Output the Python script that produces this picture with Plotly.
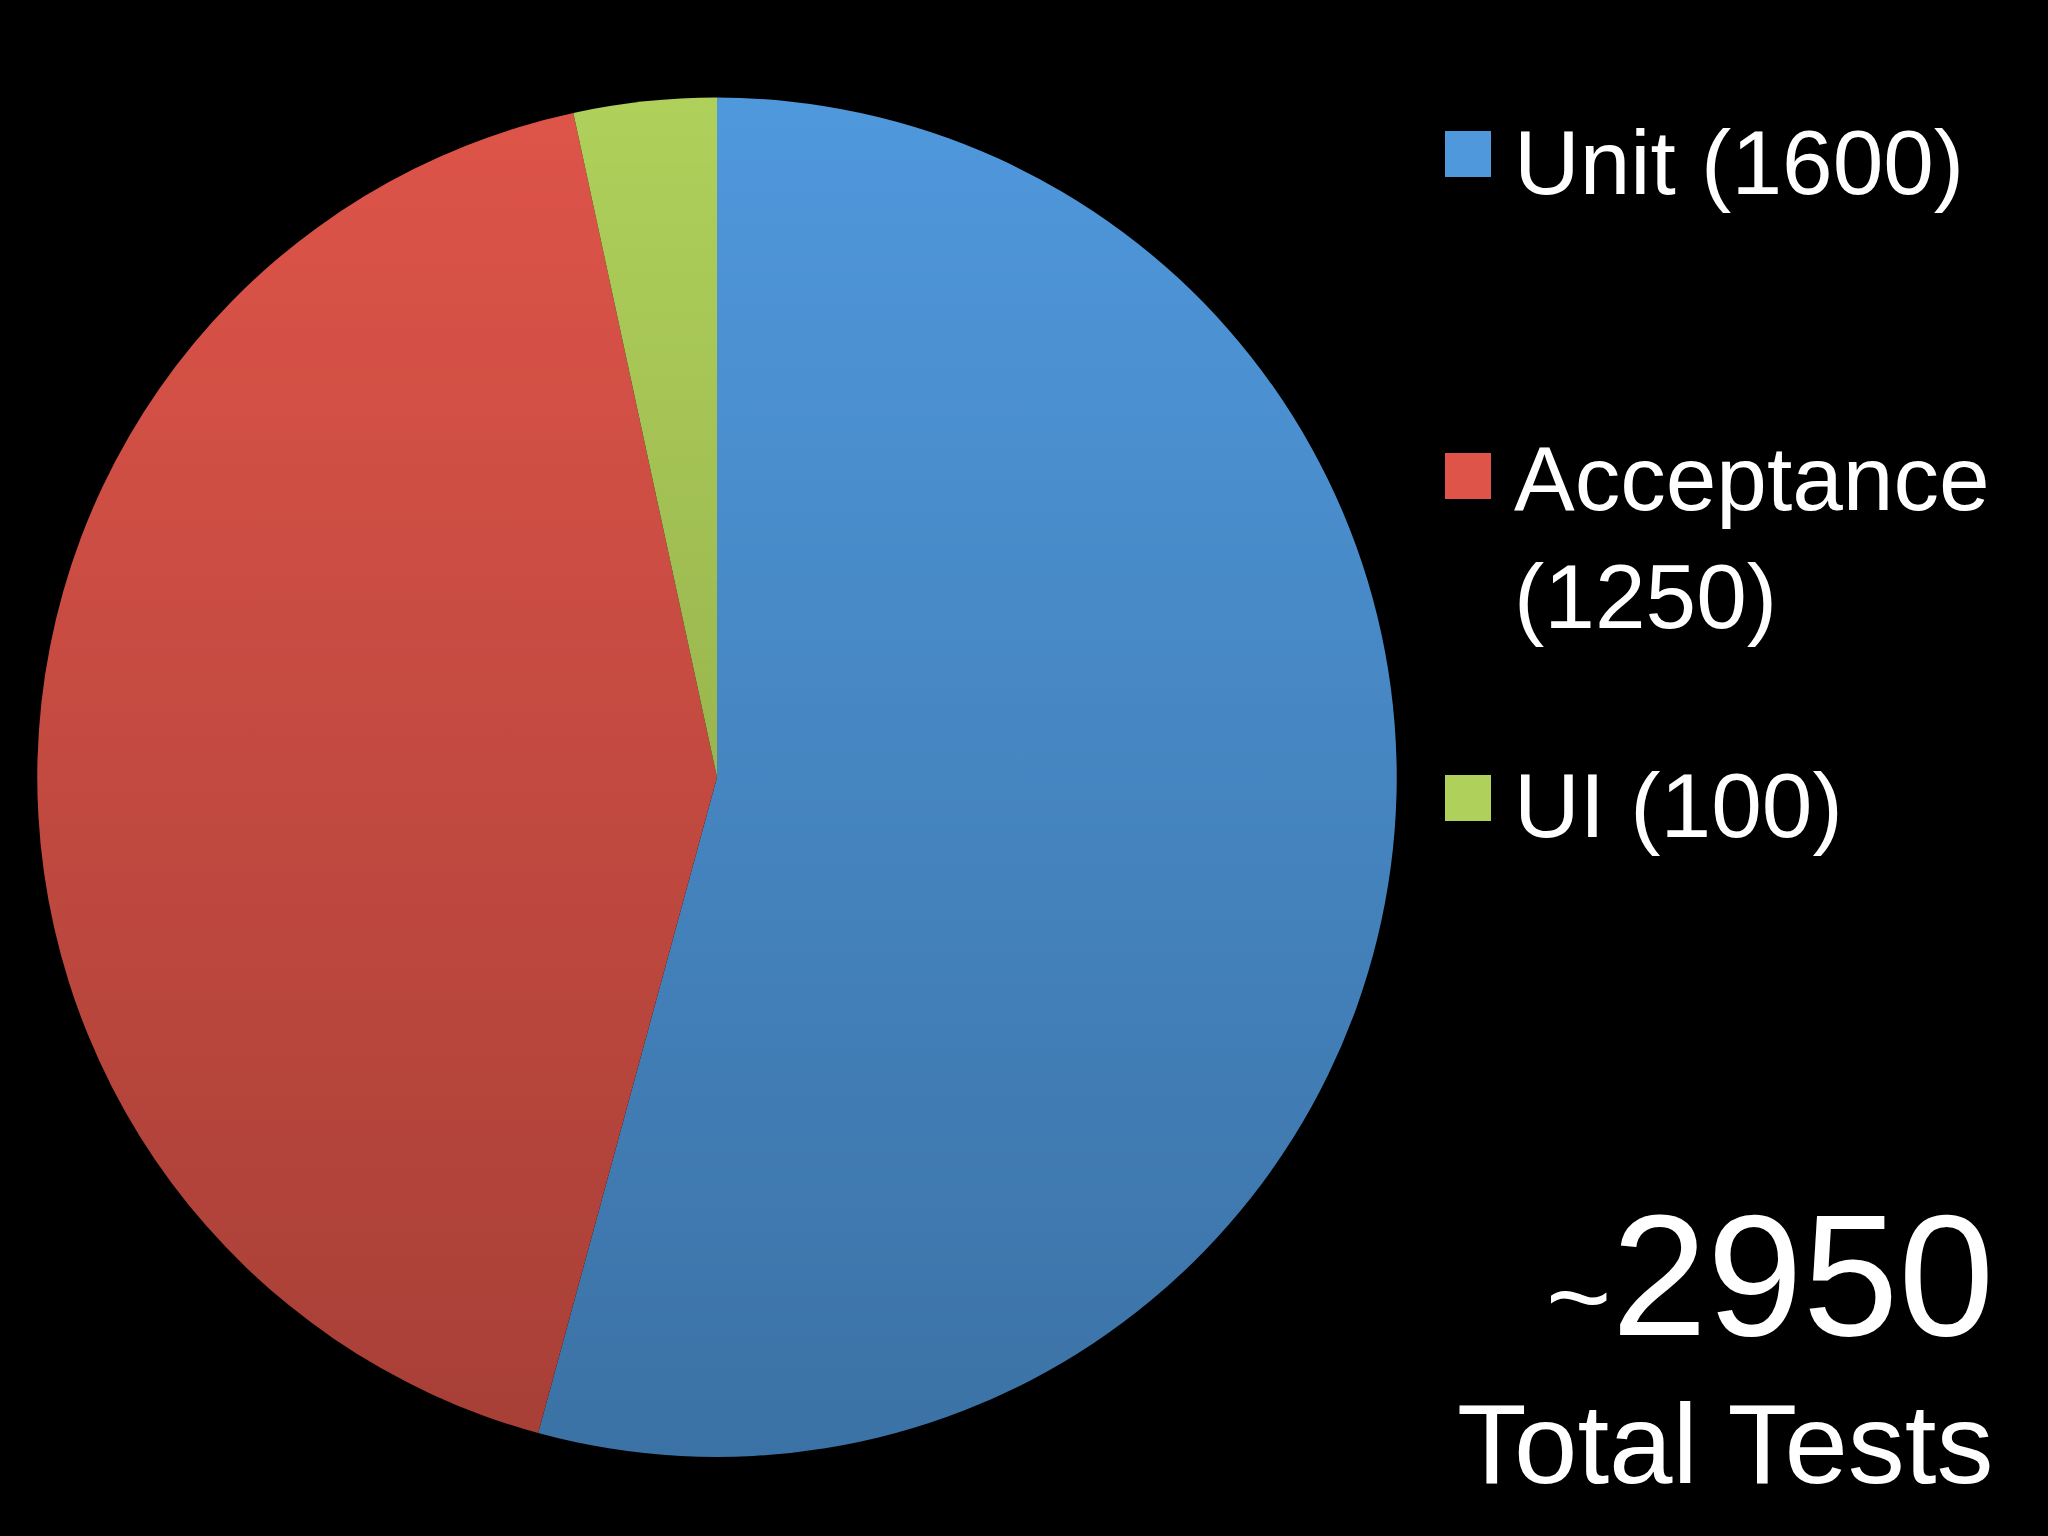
import base64
import plotly.graph_objects as go

# ---- data ----
labels = ["Unit", "Acceptance", "UI"]
values = [1600, 1250, 100]
colors = ["#4F98DC", "#DE5449", "#AFD05A"]
total_label = "Total Tests"

W, H = 2048, 1536

def px_x(x):
    return x / W

def px_y(y):
    return 1 - y / H

# vertical shading (PowerPoint-style gradient): transparent at top, darker at bottom
svg = ("<svg xmlns='http://www.w3.org/2000/svg' width='100' height='100' "
       "viewBox='0 0 100 100' preserveAspectRatio='none'>"
       "<defs><linearGradient id='g' x1='0' y1='0' x2='0' y2='1'>"
       "<stop offset='0' stop-color='black' stop-opacity='0'/>"
       "<stop offset='1' stop-color='black' stop-opacity='0.25'/>"
       "</linearGradient></defs>"
       "<rect x='0' y='0' width='100' height='100' fill='url(#g)'/></svg>")
shade_src = "data:image/svg+xml;base64," + base64.b64encode(svg.encode()).decode()

pie_dom_x = [px_x(37.3), px_x(1396.7)]
pie_dom_y = [px_y(1457.3), px_y(97.3)]

fig = go.Figure()
fig.add_trace(go.Pie(
    labels=labels,
    values=values,
    sort=False,
    direction="clockwise",
    rotation=0,
    marker=dict(colors=colors, line=dict(width=0)),
    textinfo="none",
    hoverinfo="label+value",
    showlegend=False,
    domain=dict(x=pie_dom_x, y=pie_dom_y),
))

images = [dict(source=shade_src, xref="paper", yref="paper",
               x=pie_dom_x[0], y=pie_dom_y[1],
               sizex=pie_dom_x[1] - pie_dom_x[0], sizey=pie_dom_y[1] - pie_dom_y[0],
               xanchor="left", yanchor="top", sizing="stretch", layer="above")]

FONT = "Liberation Sans, Arial, Helvetica, sans-serif"

# manual legend (large squares + large text, as in the slide)
legend_sq_centers = [154, 476, 798]
legend_text_y = [162, 537, 805]
shapes = []
annotations = []
for i, (lab, val, col) in enumerate(zip(labels, values, colors)):
    cy = legend_sq_centers[i]
    shapes.append(dict(type="rect", xref="paper", yref="paper",
                       x0=px_x(1445), x1=px_x(1491),
                       y0=px_y(cy + 23), y1=px_y(cy - 23),
                       fillcolor=col, line=dict(width=0)))
    images.append(dict(source=shade_src, xref="paper", yref="paper",
                       x=px_x(1445), y=px_y(cy - 23),
                       sizex=46 / W, sizey=46 / H,
                       xanchor="left", yanchor="top", sizing="stretch", layer="above"))
    sep = "<br>" if len(lab) > 8 else " "
    annotations.append(dict(xref="paper", yref="paper",
                            x=px_x(1512), y=px_y(legend_text_y[i]),
                            xanchor="left", yanchor="middle", align="left",
                            text=f"{lab}{sep}({val})", showarrow=False,
                            font=dict(family=FONT, size=91, color="white")))

total = sum(values)
annotations.append(dict(xref="paper", yref="paper",
                        x=px_x(1996), y=px_y(1337 + 0.212 * 172), xanchor="right", yanchor="bottom",
                        text=f"<span style='font-size:112px'>~</span>{total}",
                        showarrow=False,
                        font=dict(family=FONT, size=172, color="white")))
annotations.append(dict(xref="paper", yref="paper",
                        x=px_x(1996), y=px_y(1485 + 0.212 * 114), xanchor="right", yanchor="bottom",
                        text=total_label, showarrow=False,
                        font=dict(family=FONT, size=114, color="white")))

fig.update_layout(
    width=W, height=H,
    paper_bgcolor="black", plot_bgcolor="black",
    margin=dict(l=0, r=0, t=0, b=0),
    shapes=shapes, annotations=annotations, images=images,
    showlegend=False,
)

fig.write_html("out.html", config={"displayModeBar": False},
               post_script="document.body.style.margin='0';document.body.style.background='black';")
